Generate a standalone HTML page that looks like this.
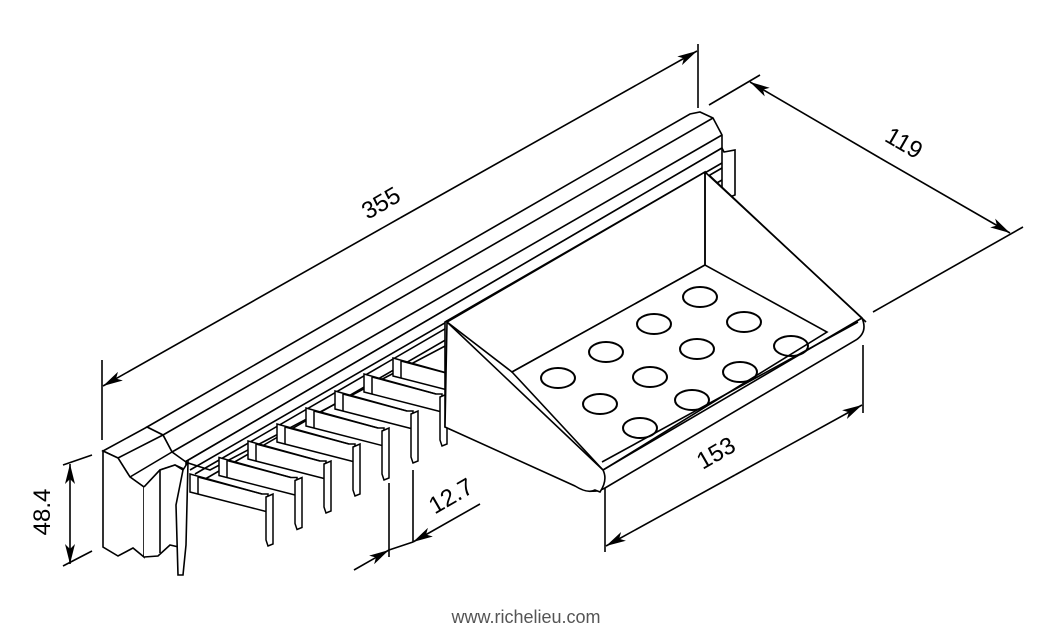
<!DOCTYPE html>
<html><head><meta charset="utf-8"><style>
html,body{margin:0;padding:0;background:#fff;}
svg{display:block}
text{font-family:"Liberation Sans",sans-serif;}
</style></head><body>
<svg width="1052" height="633" viewBox="0 0 1052 633" xmlns="http://www.w3.org/2000/svg">
<defs>
<marker id="a" viewBox="0 0 20 10" refX="20" refY="5" markerWidth="20" markerHeight="10" markerUnits="userSpaceOnUse" orient="auto"><path d="M0,0 L20,5 L0,10 L5,5z" fill="#000"/></marker>
</defs>
<g stroke="#000" stroke-width="1.6" fill="none">
<line x1="102" y1="360" x2="102" y2="440"/>
<line x1="698" y1="44" x2="698" y2="108"/>
<line x1="400" y1="218" x2="103" y2="386" marker-end="url(#a)"/>
<line x1="400" y1="218" x2="697" y2="51" marker-end="url(#a)"/>
<line x1="709" y1="105" x2="760" y2="75"/>
<line x1="873" y1="312" x2="1023" y2="227"/>
<line x1="880" y1="158" x2="750" y2="82" marker-end="url(#a)"/>
<line x1="880" y1="158" x2="1010" y2="233" marker-end="url(#a)"/>
<line x1="605" y1="470" x2="605" y2="552"/>
<line x1="863" y1="345" x2="863" y2="413"/>
<line x1="735" y1="475" x2="606" y2="546" marker-end="url(#a)"/>
<line x1="735" y1="475" x2="862" y2="405" marker-end="url(#a)"/>
<line x1="63" y1="465" x2="92" y2="455"/>
<line x1="63" y1="566" x2="92" y2="551"/>
<line x1="70" y1="512" x2="70" y2="464" marker-end="url(#a)"/>
<line x1="70" y1="512" x2="70" y2="564" marker-end="url(#a)"/>
<line x1="389" y1="483" x2="389" y2="557"/>
<line x1="413" y1="470" x2="413" y2="542"/>
<line x1="354" y1="570" x2="389" y2="550" marker-end="url(#a)"/>
<line x1="389" y1="550" x2="413" y2="542"/>
<line x1="480" y1="504" x2="413" y2="542" marker-end="url(#a)"/>

<polygon fill="#fff" points="147,427 690,114 700,112 713,118 722,135 722,148 185,462 172,452 163,435"/>
<line x1="163" y1="435" x2="713" y2="118"/>
<line x1="172" y1="452" x2="722" y2="135"/>
<polygon fill="#fff" points="185,462 722,148 724,152 735,150 735,195 722,200 210,470"/>
<line x1="190" y1="470" x2="722" y2="163"/>
<line x1="195" y1="474" x2="722" y2="168"/>
<line x1="722" y1="148" x2="722" y2="200"/>
<line x1="200" y1="482" x2="722" y2="180"/>
</g>

<g stroke="#000" stroke-width="1.5" fill="#fff">
<g id="h">
<polygon points="190,474 262,494 268,494 268,512 190,492"/>
<line x1="198" y1="477" x2="198" y2="494"/>
<line x1="198" y1="477" x2="262" y2="494"/>
<path d="M266,497 L273,494 L273,544 L268,546 L266,540 Z"/>
</g>
<use href="#h" transform="translate(29,-16.5)"/>
<use href="#h" transform="translate(58,-33)"/>
<use href="#h" transform="translate(87,-50)"/>
<use href="#h" transform="translate(116,-66)"/>
<use href="#h" transform="translate(145,-83)"/>
<use href="#h" transform="translate(174,-100)"/>
<use href="#h" transform="translate(203,-116)"/>
</g>

<g stroke="#000" stroke-width="1.6" fill="#fff">
<polygon points="103,451 147,427 163,435 172,452 186,462 186,470 175,465 160,470 144,487 130,477 118,458"/>
<line x1="118" y1="458" x2="163" y2="435"/>
<line x1="130" y1="477" x2="172" y2="452"/>
<polygon points="103,451 118,458 130,477 144,487 144,557 133,548 118,556 103,547"/>
<path d="M144,487 L160,470 L175,465 L183,470 L183,548 L170,545 L158,556 L144,557"/>
<path d="M183,470 L188,462 L186,545 L183,575 L178,575 L176,505 Z"/>
<line x1="160" y1="470" x2="160" y2="553"/>
</g>

<g stroke="#000" stroke-width="1.6" fill="#fff">
<path d="M705,172 L862,318 Q868,332 856,340 L605,488 Q590,496 575,484 L445,427 L445,322 Z"/>
<polygon points="447,322 705,172 705,265 512,372"/>
<polygon points="512,372 705,265 827,332 603,470"/>
<line x1="705" y1="172" x2="705" y2="265"/>
<path d="M447,322 L603,470 Q608,480 600,492 L595,490 Q588,494 575,486 L445,427 Z"/>
<line x1="603" y1="470" x2="862" y2="318"/>
<line x1="602" y1="462" x2="858" y2="322"/>
<path d="M710,176 L866,322" fill="none"/>
</g>
<g stroke="#000" stroke-width="2" fill="none">
<ellipse cx="700" cy="297" rx="17" ry="10"/>
<ellipse cx="654" cy="324" rx="17" ry="10"/>
<ellipse cx="744" cy="322" rx="17" ry="10"/>
<ellipse cx="606" cy="352" rx="17" ry="10"/>
<ellipse cx="697" cy="349" rx="17" ry="10"/>
<ellipse cx="791" cy="346" rx="17" ry="10"/>
<ellipse cx="558" cy="378" rx="17" ry="10"/>
<ellipse cx="650" cy="377" rx="17" ry="10"/>
<ellipse cx="740" cy="372" rx="17" ry="10"/>
<ellipse cx="600" cy="404" rx="17" ry="10"/>
<ellipse cx="692" cy="400" rx="17" ry="10"/>
<ellipse cx="640" cy="428" rx="17" ry="10"/>
</g>

<text x="385" y="210" font-size="24" transform="rotate(-30 385 210)" text-anchor="middle">355</text>
<text x="900" y="150" font-size="24" transform="rotate(30 900 150)" text-anchor="middle">119</text>
<text x="720" y="460" font-size="24" transform="rotate(-30 720 460)" text-anchor="middle">153</text>
<text x="455" y="503" font-size="24" transform="rotate(-30 455 503)" text-anchor="middle">12.7</text>
<text x="50" y="512" font-size="24" transform="rotate(-90 50 512)" text-anchor="middle">48.4</text>
<text x="526" y="623" font-size="18" fill="#555" text-anchor="middle">www.richelieu.com</text>
</svg>
</body></html>
